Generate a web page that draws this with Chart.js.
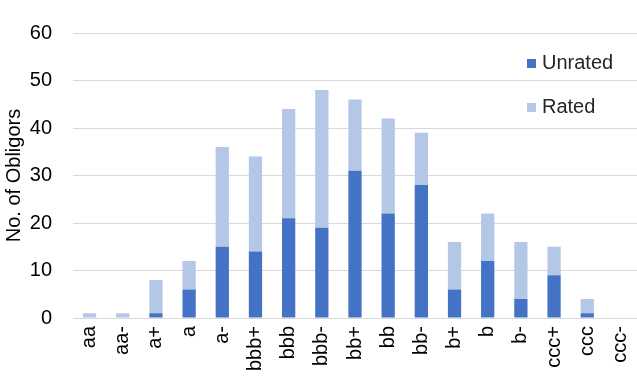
<!DOCTYPE html>
<html>
<head>
<meta charset="utf-8">
<script src="https://cdn.jsdelivr.net/npm/chart.js@4/dist/chart.umd.min.js"></script>
<style>
html,body{margin:0;padding:0;background:#fff;}
#wrap{position:relative;width:637px;height:382px;}
canvas{position:absolute;left:0;top:0;}
.leg{position:absolute;font-family:"Liberation Sans",Arial,sans-serif;font-size:20px;color:#262626;line-height:22px;white-space:nowrap;}
.leg span{display:inline-block;width:9px;height:9px;margin-right:6px;vertical-align:1px;}
</style>
</head>
<body>
<div id="wrap">
<canvas id="c" width="637" height="382"></canvas>
<div class="leg" style="left:527px;top:51px;"><span style="background:#4472C4"></span>Unrated</div>
<div class="leg" style="left:527px;top:95px;"><span style="background:#B4C7E7"></span>Rated</div>
</div>
<script>
const categories = ["aa","aa-","a+","a","a-","bbb+","bbb","bbb-","bb+","bb","bb-","b+","b","b-","ccc+","ccc","ccc-"];
const unrated = [0,0,1,6,15,14,21,19,31,22,28,6,12,4,9,1,0];
const rated   = [1,1,7,6,21,20,23,29,15,20,11,10,10,12,6,3,0];
const yTicks = [0,10,20,30,40,50,60];

const font = {family:"'Liberation Sans', Arial, sans-serif", size:20};
new Chart(document.getElementById('c'), {
  type:'bar',
  data:{
    labels:categories,
    datasets:[
      {label:'Unrated', data:unrated, backgroundColor:'#4472C4', categoryPercentage:1, barPercentage:0.4},
      {label:'Rated', data:rated, backgroundColor:'#B4C7E7', categoryPercentage:1, barPercentage:0.4}
    ]
  },
  options:{
    responsive:false,
    animation:false,
    layout:{padding:{top:15,right:0,left:2,bottom:0}},
    plugins:{legend:{display:false}, tooltip:{enabled:false}},
    scales:{
      x:{
        stacked:true,
        grid:{display:false, drawTicks:false},
        border:{display:true, color:'#d9d9d9', width:1},
        ticks:{color:'#000', font:font, minRotation:90, maxRotation:90, padding:8, autoSkip:false},
        afterFit:(ax)=>{ax.height = 64; ax.paddingLeft = 0; ax.paddingRight = 0;}
      },
      y:{
        stacked:true,
        min:0, max:60,
        afterBuildTicks:(ax)=>{ax.ticks = yTicks.map(v=>({value:v}));},
        afterFit:(ax)=>{ax.width = 71;},
        grid:{color:'#d9d9d9', lineWidth:1, drawTicks:false},
        border:{display:false},
        ticks:{color:'#000', font:font, padding:21},
        title:{display:true, text:'No. of Obligors', color:'#000', font:font, padding:{top:0,bottom:4}}
      }
    }
  }
});
</script>
</body>
</html>
